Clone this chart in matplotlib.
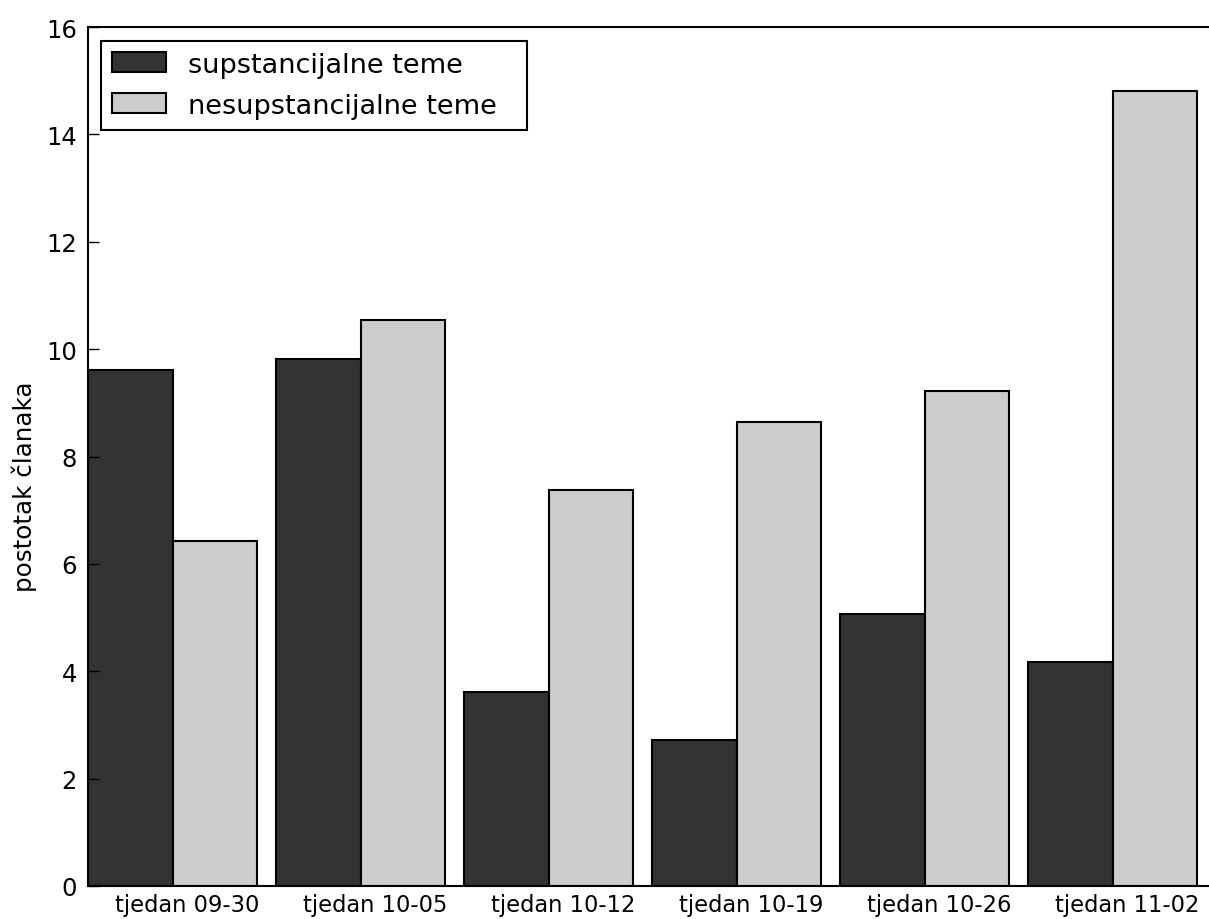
import numpy as np
import matplotlib
matplotlib.use("Agg")
import matplotlib.pyplot as plt

weeks = ["tjedan 09-30", "tjedan 10-05", "tjedan 10-12",
         "tjedan 10-19", "tjedan 10-26", "tjedan 11-02"]
substantial = [9.61, 9.82, 3.61, 2.72, 5.07, 4.17]
non_substantial = [6.43, 10.54, 7.38, 8.64, 9.22, 14.81]
series_labels = ["supstancijalne teme", "nesupstancijalne teme"]

plt.rcParams["font.family"] = "DejaVu Sans"

fig = plt.figure(figsize=(12.09, 9.2), dpi=100)
ax = fig.add_axes([88 / 1209, 33 / 920, 1128 / 1209, 859 / 920])

x = np.arange(len(weeks))
width = 0.45
ax.bar(x, substantial, width, align="edge", color="#333333",
       edgecolor="black", linewidth=1.5, label=series_labels[0])
ax.bar(x + width, non_substantial, width, align="edge", color="#cccccc",
       edgecolor="black", linewidth=1.5, label=series_labels[1])

ax.set_xlim(0, len(weeks))
ax.set_ylim(0, 16)
ax.set_xticks(x + 0.525)
ax.set_xticklabels(weeks, fontsize=16.3)
ax.tick_params(axis="x", length=0, pad=5)
ax.tick_params(axis="y", direction="in", length=8, width=1, labelsize=17.5,
               pad=8)
ax.set_ylabel("postotak članaka", fontsize=17.7)
ax.yaxis.set_label_coords(-0.045, 0.466)
for s in ax.spines.values():
    s.set_linewidth(1.5)

leg = ax.legend(loc="upper left", bbox_to_anchor=(0.0115, 0.0, 0.3777, 0.9837),
                mode="expand", borderaxespad=0, fontsize=19.5, fancybox=False,
                framealpha=1, edgecolor="black", borderpad=0.4,
                labelspacing=0.55, handlelength=2.0, handleheight=0.75,
                handletextpad=0.8)
leg.get_frame().set_linewidth(1.5)

fig.savefig("out.png", dpi=100)
